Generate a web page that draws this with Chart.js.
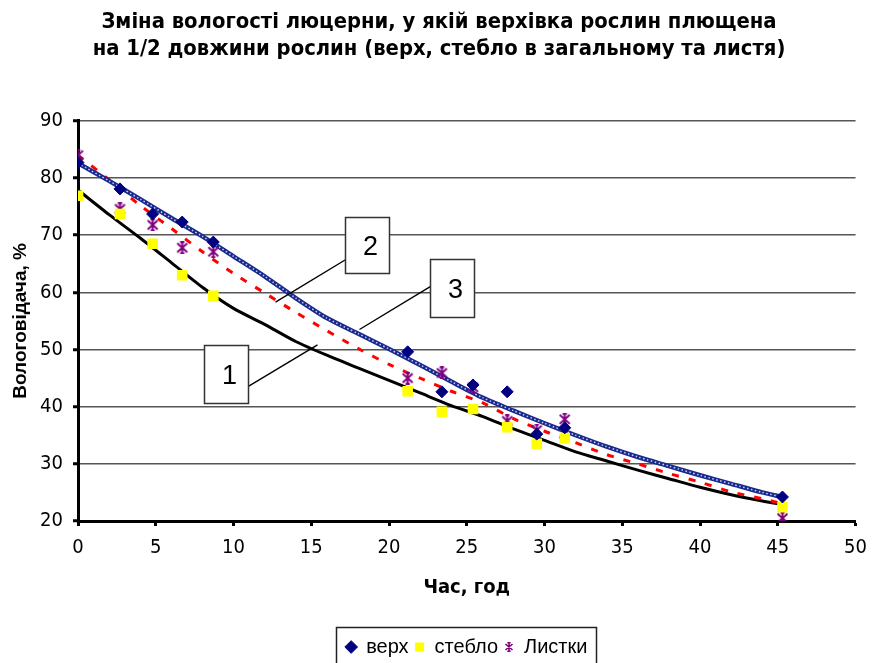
<!DOCTYPE html>
<html>
<head>
<meta charset="utf-8">
<script src="https://cdn.jsdelivr.net/npm/chart.js@4.4.1/dist/chart.umd.min.js"></script>
<style>
  html, body { margin: 0; padding: 0; background: #fff; overflow: hidden; }
  canvas { display: block; }
</style>
</head>
<body>
<canvas id="chart" width="877" height="663"></canvas>
<script>
// Measurement times, h
const hours = [0, 2.7, 4.8, 6.7, 8.7, 21.2, 23.4, 25.4, 27.6, 29.5, 31.3, 45.3];

// Moisture of plant parts, %
const moistureTop  = [82.7, 78.1, 73.7, 72.3, 68.8, 49.6, 42.6, 43.8, 42.6, 35.2, 36.3, 24.2];
const moistureStem = [76.9, 73.7, 68.5, 63.0, 59.4, 42.7, 39.1, 39.6, 36.4, 33.5, 34.5, 22.4];
const moistureLeaf = [84.0, 74.6, 71.8, 67.8, 67.1, 45.0, 45.9, 43.4, 37.5, 35.9, 37.8, 20.5];

// Drying curves 1, 2, 3
const curveHours = [0, 2, 4, 6, 8, 10, 12, 14, 16, 18, 20, 22, 24, 26, 28, 30, 32, 34, 36, 38, 40, 42, 44, 45.3];
const curve1 = [77.9, 73.6, 69.5, 65.2, 60.9, 57.2, 54.4, 51.4, 49.0, 46.8, 44.6, 42.4, 40.2, 38.3, 36.1, 34.1, 32.1, 30.5, 28.9, 27.4, 25.9, 24.6, 23.5, 22.9];
const curve2 = [82.6, 79.5, 76.3, 73.0, 69.8, 66.3, 62.8, 59.0, 55.5, 52.8, 50.1, 47.3, 44.4, 41.6, 39.3, 37.1, 35.0, 33.0, 31.2, 29.6, 28.0, 26.5, 25.0, 24.2];
const curve3 = [84.0, 79.7, 75.2, 71.2, 67.1, 63.3, 59.9, 56.5, 53.3, 50.2, 47.4, 45.0, 42.7, 40.7, 37.9, 35.7, 33.7, 31.6, 30.0, 28.3, 26.8, 25.1, 23.9, 23.0];

const seriesNames = ['верх', 'стебло', 'Листки'];
const titleLines = [
  'Зміна вологості люцерни, у якій верхівка рослин плющена',
  'на 1/2 довжини рослин (верх, стебло в загальному та листя)'
];
const xTitle = 'Час, год';
const yTitle = 'Вологовідача, %';

// Numbered callouts pointing at the curves (in data units)
const callouts = [
  { text: '1', box: [8.1, 50.8, 10.9, 40.65],  line: [10.9, 43.45, 15.4, 50.8] },
  { text: '2', box: [17.2, 73.2, 20.0, 63.4],  line: [17.2, 65.7, 12.7, 58.3] },
  { text: '3', box: [22.65, 65.85, 25.45, 55.7], line: [22.65, 61.0, 18.1, 53.5] }
];

const NARROW = "'Liberation Sans Narrow', 'Arial Narrow', 'DejaVu Sans Condensed', 'Liberation Sans', Arial, sans-serif";
const REGULAR = "'Liberation Sans', Arial, sans-serif";

const pts = (xs, ys) => xs.map((x, i) => ({ x, y: ys[i] }));

// Asterisk marker: cross, vertical stroke and short end caps
function asterisk(size, color, lw) {
  const c = document.createElement('canvas');
  c.width = size; c.height = size;
  const g = c.getContext('2d');
  g.strokeStyle = color; g.lineWidth = lw; g.lineCap = 'butt';
  const m = size / 2, a = 1.5, b = size - 1.5, cap = size * 0.16;
  g.beginPath();
  g.moveTo(a, a + 0.5); g.lineTo(b, b - 0.5);
  g.moveTo(b, a + 0.5); g.lineTo(a, b - 0.5);
  g.moveTo(m, 0.5); g.lineTo(m, size - 0.5);
  g.moveTo(m - cap, lw / 2); g.lineTo(m + cap, lw / 2);
  g.moveTo(m - cap, size - lw / 2); g.lineTo(m + cap, size - lw / 2);
  g.stroke();
  return c;
}
const starBig = asterisk(13, '#800080', 2);
const starSmall = asterisk(10, '#800080', 1.6);

Chart.defaults.font.family = REGULAR;
Chart.defaults.color = '#000';

const calloutPlugin = {
  id: 'callouts',
  afterDatasetsDraw(chart) {
    const { ctx, scales: { x, y } } = chart;
    ctx.save();
    callouts.forEach(c => {
      ctx.beginPath();
      ctx.strokeStyle = '#000';
      ctx.lineWidth = 1.4;
      ctx.moveTo(x.getPixelForValue(c.line[0]), y.getPixelForValue(c.line[1]));
      ctx.lineTo(x.getPixelForValue(c.line[2]), y.getPixelForValue(c.line[3]));
      ctx.stroke();
    });
    callouts.forEach(c => {
      const l = Math.round(x.getPixelForValue(c.box[0])) + 0.5;
      const t = Math.round(y.getPixelForValue(c.box[1])) + 0.5;
      const r = Math.round(x.getPixelForValue(c.box[2])) + 0.5;
      const b = Math.round(y.getPixelForValue(c.box[3])) + 0.5;
      ctx.fillStyle = '#fff';
      ctx.fillRect(l, t, r - l, b - t);
      ctx.strokeStyle = '#333';
      ctx.lineWidth = 1.5;
      ctx.strokeRect(l, t, r - l, b - t);
      ctx.fillStyle = '#000';
      ctx.font = '27px ' + REGULAR;
      ctx.textAlign = 'center';
      ctx.textBaseline = 'middle';
      ctx.fillText(c.text, (l + r) / 2 + 3, (t + b) / 2 + 2);
    });
    ctx.restore();
  }
};

// Legend centred under the plot area and framed; title nudged to the plot centre
const legendFramePlugin = {
  id: 'legendFrame',
  afterLayout(chart) {
    const lg = chart.legend, ca = chart.chartArea;
    lg.left = ca.left; lg.right = ca.right;
    lg.top += 4; lg.bottom += 4;
    if (chart.titleBlock) { chart.titleBlock.left += 16; }
  },
  afterDraw(chart) {
    const lg = chart.legend;
    const pad = lg.options.labels.padding;
    const rowW = lg.lineWidths[0];
    const start = (lg.left + pad + lg.right - rowW) / 2;
    const ctx = chart.ctx;
    ctx.save();
    ctx.strokeStyle = '#222';
    ctx.lineWidth = 1.5;
    ctx.strokeRect(Math.round(start - 10) + 0.5, Math.round(lg.top - 4) + 0.5, Math.round(rowW + 13), 60);
    ctx.restore();
  }
};

new Chart(document.getElementById('chart'), {
  type: 'scatter',
  data: {
    datasets: [
      { label: seriesNames[0], data: pts(hours, moistureTop), pointStyle: 'rectRot', pointRadius: 6,
        backgroundColor: '#000080', borderColor: '#000080', borderWidth: 1, showLine: false },
      { label: seriesNames[1], data: pts(hours, moistureStem), pointStyle: 'rect', pointRadius: 7.5,
        backgroundColor: '#FFFF00', borderColor: '#FFFF00', borderWidth: 0, showLine: false },
      { label: seriesNames[2], data: pts(hours, moistureLeaf), pointStyle: starBig, pointRadius: 6,
        backgroundColor: '#800080', borderColor: '#800080', showLine: false },
      { label: 'curve2-texture', data: pts(curveHours, curve2), showLine: true, pointRadius: 0,
        borderColor: '#c4ccff', borderWidth: 1.5, borderDash: [1.5, 2.5], tension: 0.25 },
      { label: 'curve2', data: pts(curveHours, curve2), showLine: true, pointRadius: 0,
        borderColor: '#1a2a8c', borderWidth: 4.5, tension: 0.25 },
      { label: 'curve3', data: pts(curveHours, curve3), showLine: true, pointRadius: 0,
        borderColor: '#FF0000', borderWidth: 3, borderDash: [7, 10], tension: 0.25 },
      { label: 'curve1', data: pts(curveHours, curve1), showLine: true, pointRadius: 0,
        borderColor: '#000', borderWidth: 3, tension: 0.25 }
    ]
  },
  options: {
    responsive: false,
    animation: false,
    layout: { padding: { left: 0, right: 15, top: 0, bottom: 0 } },
    plugins: {
      tooltip: { enabled: false },
      title: {
        display: true,
        text: titleLines,
        color: '#000',
        font: { family: NARROW, size: 21.8, weight: 'bold', lineHeight: 1.27 },
        padding: { top: 8, bottom: 57.5 }
      },
      legend: {
        position: 'bottom',
        labels: {
          usePointStyle: true,
          boxWidth: 10,
          boxHeight: 9,
          padding: 6,
          color: '#000',
          font: { family: REGULAR, size: 20 },
          filter: item => item.datasetIndex < 3,
          generateLabels(chart) {
            const items = Chart.defaults.plugins.legend.labels.generateLabels(chart);
            items.forEach(it => { if (it.datasetIndex === 2) it.pointStyle = starSmall; });
            return items;
          }
        }
      }
    },
    scales: {
      x: {
        type: 'linear', min: 0, max: 50,
        afterFit: s => { s.height = 106; },
        ticks: { stepSize: 5, padding: 10, color: '#000', font: { family: NARROW, size: 20 } },
        grid: { drawOnChartArea: false, drawTicks: true, tickLength: 5, tickWidth: 3, tickColor: '#000' },
        border: { display: true, color: '#000', width: 3 },
        title: { display: true, text: xTitle, color: '#000',
          font: { family: NARROW, size: 20, weight: 'bold', lineHeight: 1.2 },
          padding: { top: 0, bottom: 27 } }
      },
      y: {
        min: 20, max: 90,
        afterFit: s => { s.width = 78; },
        ticks: { stepSize: 10, padding: 10, color: '#000', font: { family: NARROW, size: 20 } },
        grid: { color: '#555', lineWidth: 1.5, drawTicks: true, tickLength: 5, tickWidth: 3, tickColor: '#000' },
        border: { display: true, color: '#000', width: 3 },
        title: { display: true, text: yTitle, color: '#000',
          font: { family: REGULAR, size: 19, weight: 'bold', lineHeight: 1.2 },
          padding: { top: 9, bottom: 0 } }
      }
    }
  },
  plugins: [calloutPlugin, legendFramePlugin]
});
</script>
</body>
</html>
